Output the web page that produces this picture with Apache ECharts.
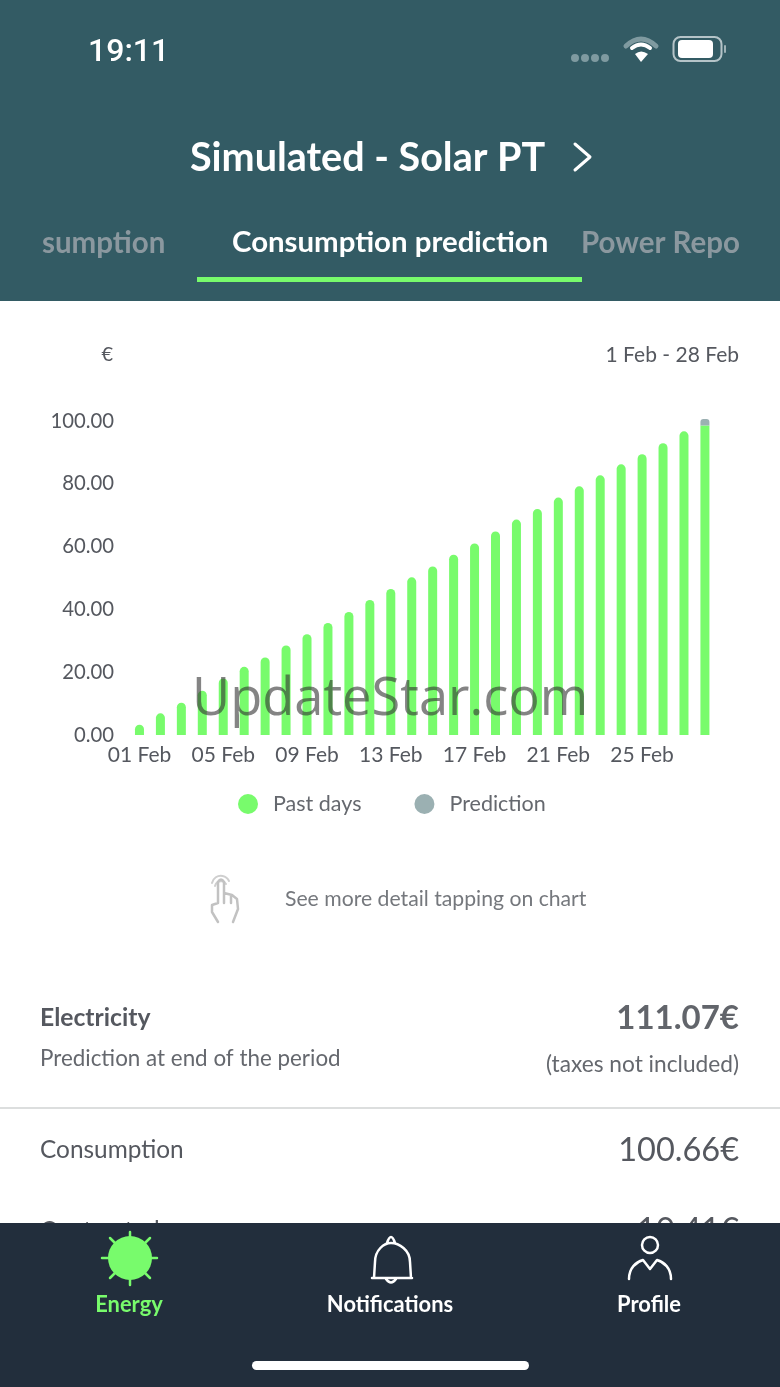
<!DOCTYPE html>
<html>
<head>
<meta charset="utf-8">
<style>
  html, body { margin: 0; padding: 0; background: #fff; }
  #main { width: 780px; height: 1387px; }
</style>
<script src="https://cdn.jsdelivr.net/npm/echarts@6/dist/echarts.min.js"></script>
</head>
<body>
<div id="main"></div>
<script>
const categories = ['01 Feb','02 Feb','03 Feb','04 Feb','05 Feb','06 Feb','07 Feb','08 Feb','09 Feb','10 Feb',
  '11 Feb','12 Feb','13 Feb','14 Feb','15 Feb','16 Feb','17 Feb','18 Feb','19 Feb','20 Feb',
  '21 Feb','22 Feb','23 Feb','24 Feb','25 Feb','26 Feb','27 Feb','28 Feb'];
const pastDays = [3.3, 6.9, 10.3, 14.1, 18.0, 21.7, 24.7, 28.5, 32.1, 35.7, 39.2, 43.0, 46.5, 50.2,
  53.7, 57.4, 61.0, 64.8, 68.6, 72.0, 75.6, 79.2, 82.7, 86.2, 89.4, 92.9, 96.7, 98.6];
const prediction = [0, 0, 0, 0, 0, 0, 0, 0, 0, 0, 0, 0, 0, 0, 0, 0, 0, 0, 0, 0, 0, 0, 0, 0, 0, 0, 0, 2.06];

const GREEN = '#78fb6c';
const GREY = '#9bb0b2';
const INK = '#55585f';
const SANS = 'Lato, sans-serif';

let shapeCount = 0;
function shape(d) {
  const name = 'icon' + (shapeCount++);
  echarts.graphic.registerShape(name, echarts.graphic.extendPath(d));
  return name;
}
function txt(text, x, y, font, fill, align) {
  return { type: 'text', z: 20, style: { text: text, x: x, y: y, font: font, fill: fill, align: align || 'left', verticalAlign: 'middle' } };
}
function rect(x, y, width, height, fill, r, z) {
  return { type: 'rect', z: z || 10, shape: { x: x, y: y, width: width, height: height, r: r || 0 }, style: { fill: fill } };
}
function line(d, stroke, width, z) {
  return { type: shape(d), z: z || 20, style: { fill: 'none', stroke: stroke, lineWidth: width, lineCap: 'round', lineJoin: 'round' } };
}
function blob(d, fill, z) {
  return { type: shape(d), z: z || 20, style: { fill: fill } };
}

const page = [
  // header
  rect(0, 0, 780, 301, '#335b64', 0, 1),
  txt('19:11', 88, 53, '500 32px Roboto, sans-serif', '#fff'),
  blob('M571 58a4 4 0 1 0 8 0a4 4 0 1 0 -8 0M581 58a4 4 0 1 0 8 0a4 4 0 1 0 -8 0M591 58a4 4 0 1 0 8 0a4 4 0 1 0 -8 0M601 58a4 4 0 1 0 8 0a4 4 0 1 0 -8 0', '#7f9aa0'),
  line('M626 46Q641 32 656 46', '#7f9aa0', 5),
  line('M632 48Q641 41 650 48', '#fff', 4),
  blob('M635 54Q641 49 648 54L641 62Z', '#fff'),
  { type: 'rect', z: 20, shape: { x: 673.5, y: 37, width: 48, height: 24, r: 7 }, style: { fill: 'none', stroke: '#b5c4c8', lineWidth: 2 } },
  rect(678, 40, 35, 18, '#fff', 4, 20),
  rect(724, 45, 2, 8, '#9fb2b7', 1, 20),
  txt('Simulated - Solar PT', 190, 158, '700 39.5px ' + SANS, '#fff'),
  line('M575 144L590 157L575 170', '#fff', 3),
  txt('sumption', 42, 243, '700 29.5px ' + SANS, '#8b989f'),
  txt('Consumption prediction', 232, 243, '700 29.4px ' + SANS, '#fff'),
  txt('Power Repo', 581, 243, '700 29.5px ' + SANS, '#8b989f'),
  rect(197, 277, 385, 5, GREEN, 0, 2),

  // chart captions
  txt('€', 113, 355, '20px ' + SANS, INK, 'right'),
  txt('1 Feb - 28 Feb', 739, 355, '21px ' + SANS, INK, 'right'),
  { type: 'text', z: 30, style: { text: 'UpdateStar.com', x: 192, y: 700, font: '52.4px "Open Sans", sans-serif', fill: 'rgba(50,50,50,0.6)', align: 'left', verticalAlign: 'middle' } },

  // hint
  line('M212 883A9 9 0 0 1 229 881M215 886A6 6 0 0 1 226 884', '#cfcfcf', 2),
  line('M218 903L218 882Q221 877 224 882L224 893L232 895L237 899L238 909L233 922M218 903L212 905L212 912L218 922M224 893L224 903M231 895L231 903', '#c2c2c2', 2.5),
  txt('See more detail tapping on chart', 285, 899, '21.2px ' + SANS, '#75787d'),

  // summary
  txt('Electricity', 40, 1018, '700 24.7px ' + SANS, INK),
  txt('111.07€', 739, 1018, '700 33px ' + SANS, '#62656b', 'right'),
  txt('Prediction at end of the period', 40, 1059, '22.4px ' + SANS, '#65686e'),
  txt('(taxes not included)', 739, 1065, '22.7px ' + SANS, '#65686e', 'right'),
  rect(0, 1107, 780, 2, '#dcdede', 0, 2),
  txt('Consumption', 40, 1150, '24.4px ' + SANS, INK),
  txt('100.66€', 739, 1151, '32.5px ' + SANS, INK, 'right'),
  txt('Contracted', 40, 1231, '24.4px ' + SANS, INK),
  txt('10.41€', 739, 1231, '32.5px ' + SANS, INK, 'right'),

  // tab bar
  rect(0, 1223, 780, 164, '#222e3c', 0, 25),
  { type: 'circle', z: 30, shape: { cx: 130, cy: 1258, r: 22 }, style: { fill: GREEN } },
  line('M130 1232V1285M102 1258H157M110 1238L150 1278M150 1238L110 1278', GREEN, 2.5, 29),
  line('M372 1278H412M374 1278L375 1262C375 1250 384 1243 391 1243C399 1243 410 1250 410 1262L411 1278M387 1243Q391 1231 395 1243M386 1279Q391 1286 396 1279', '#fff', 2.5, 30),
  line('M642 1245a8 8 0 1 0 16 0a8 8 0 1 0 -16 0M629 1279C629 1268 636 1262 643 1260L650 1269L657 1260C664 1262 671 1268 671 1279', '#fff', 2.5, 30),
  Object.assign(txt('Energy', 129, 1305, '700 21.9px ' + SANS, GREEN, 'center'), { z: 30 }),
  Object.assign(txt('Notifications', 390, 1305, '700 21.9px ' + SANS, '#fff', 'center'), { z: 30 }),
  Object.assign(txt('Profile', 649, 1305, '700 21.9px ' + SANS, '#fff', 'center'), { z: 30 }),
  rect(252, 1361, 277, 9, '#fff', 4.5, 30)
];

const chart = echarts.init(document.getElementById('main'));
chart.setOption({
  animation: false,
  backgroundColor: '#fff',
  grid: { left: 129, top: 421, width: 586.4, height: 314 },
  legend: {
    left: 233,
    top: 788,
    itemWidth: 20,
    itemHeight: 20,
    itemGap: 53,
    icon: 'circle',
    selectedMode: false,
    textStyle: { fontFamily: SANS, fontSize: 21.5, color: '#65686e', padding: [0, 0, 0, 10] },
    data: ['Past days', 'Prediction']
  },
  xAxis: {
    type: 'category',
    data: categories,
    axisLine: { show: false },
    axisTick: { show: false },
    axisLabel: { interval: 3, margin: 10, fontFamily: SANS, fontSize: 21, color: INK }
  },
  yAxis: {
    type: 'value',
    min: 0,
    max: 100,
    interval: 20,
    splitLine: { show: false },
    axisLine: { show: false },
    axisTick: { show: false },
    axisLabel: {
      margin: 15,
      padding: [0, 0, 8, 0],
      fontFamily: SANS,
      fontSize: 20.3,
      color: INK,
      formatter: function (v) { return v.toFixed(2); }
    }
  },
  series: [
    {
      name: 'Past days',
      type: 'bar',
      stack: 'cost',
      clip: false,
      barWidth: 9,
      itemStyle: { color: GREEN },
      data: pastDays.map(function (v, i) {
        return { value: v, itemStyle: { borderRadius: prediction[i] ? 0 : [4.5, 4.5, 0, 0] } };
      })
    },
    {
      name: 'Prediction',
      type: 'bar',
      stack: 'cost',
      clip: false,
      barWidth: 9,
      itemStyle: { color: GREY, borderRadius: [3, 3, 0, 0] },
      data: prediction
    }
  ],
  graphic: { elements: page }
});
</script>
</body>
</html>
